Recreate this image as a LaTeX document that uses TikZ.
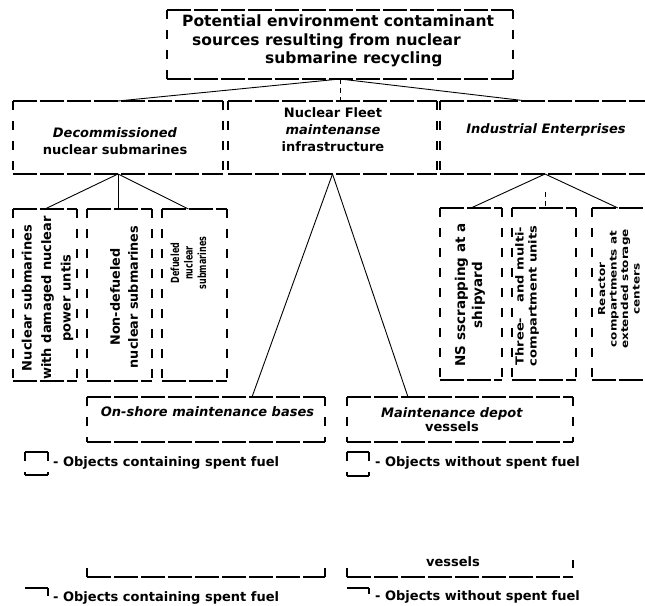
\documentclass[tikz,border=0pt]{standalone}
\usepackage{fontspec}
\usepackage{graphicx}
\setmainfont{DejaVu Sans}
\usetikzlibrary{calc}
\newcommand{\myframe}[1]{%
  \draw[hd] (#1.north west) -- (#1.north east) (#1.south west) -- (#1.south east);
  \draw[vd] (#1.north west) -- (#1.south west) (#1.north east) -- (#1.south east);}
\newcommand{\stk}[1]{\begin{tabular}{@{}c@{}}#1\end{tabular}}
\begin{document}
\begin{tikzpicture}[x=1pt,y=-1pt,
  hd/.style={line width=1.2pt, dash pattern=on 24pt off 3pt},
  vd/.style={line width=1.1pt, dash pattern=on 9pt off 11pt},
  conn/.style={line width=0.9pt},
  vconn/.style={line width=0.9pt, dash pattern=on 5pt off 4pt},
  bx/.style={inner sep=0pt, outer sep=0pt},
  tx/.style={inner sep=0pt, align=center, font=\fontsize{13}{17}\selectfont\bfseries},
  ttop/.style={inner sep=0pt, align=left, font=\fontsize{15.5}{18.5}\selectfont\bfseries},
  rt/.style={inner sep=0pt, align=center, rotate=90},
  leg/.style={inner sep=0pt, anchor=west, font=\fontsize{13}{15}\selectfont\bfseries}]
\fill[white] (0,0) rectangle (645,605);
\useasboundingbox (0,0) rectangle (645,605);

% boxes
\node[bx, minimum width=346pt, minimum height=69pt] (top) at (340,44.5) {};
\node[bx, minimum width=210pt, minimum height=73pt] (L) at (118,137.5) {};
\node[bx, minimum width=209pt, minimum height=73pt] (M) at (332.5,137.5) {};
\node[bx, minimum width=210pt, minimum height=73pt] (R) at (545,137.5) {};
\node[bx, minimum width=64pt, minimum height=172pt] (c1) at (45,295) {};
\node[bx, minimum width=65pt, minimum height=172pt] (c2) at (119.5,295) {};
\node[bx, minimum width=65pt, minimum height=172pt] (c3) at (194.5,295) {};
\node[bx, minimum width=62pt, minimum height=172pt] (c4) at (471,294) {};
\node[bx, minimum width=64pt, minimum height=172pt] (c5) at (544,294) {};
\node[bx, minimum width=60pt, minimum height=172pt] (c6) at (622,294) {};
\node[bx, minimum width=238pt, minimum height=45pt] (on) at (206,419.5) {};
\node[bx, minimum width=226pt, minimum height=45pt] (dep) at (460,419.5) {};
\node[bx, minimum width=23pt, minimum height=23pt] (lg1) at (36.5,463.5) {};
\node[bx, minimum width=22pt, minimum height=24pt] (lg2) at (358,464) {};
\foreach \b in {top,L,M,R,c1,c2,c3,c4,c5,c6,on,dep,lg1,lg2} {\myframe{\b}}

% texts
\node[ttop, anchor=north west] (ttext) at (182,15) {Potential environment contaminant\\
\hspace*{10pt}sources resulting from nuclear\\
\hspace*{83pt}submarine recycling};
\node[tx] (Ltext) at (115,141) {\textit{Decommissioned}\\nuclear submarines};
\node[tx] (Mtext) at (333,130) {Nuclear Fleet\\\textit{maintenanse}\\infrastructure};
\node[tx] (Rtext) at (546,130) {\textit{Industrial Enterprises}};
\node[rt, font=\fontsize{13}{19.5}\selectfont\bfseries] (t1) at (47.5,298) {Nuclear submarines\\with damaged nuclear\\power untis};
\node[rt, font=\fontsize{12.8}{18}\selectfont\bfseries] (t2) at (124,297) {Non-defueled\\nuclear submarines};
\node[rt, font=\fontsize{12.5}{15}\selectfont\bfseries] (t3) at (190,263)
  {\scalebox{0.64}[0.9]{\stk{Defueled\\nuclear\\submarines}}};
\node[rt, font=\fontsize{13.5}{17}\selectfont\bfseries] (t4) at (470,295) {NS sscrapping at a\\shipyard};
\node[rt, font=\fontsize{13}{15.3}\selectfont\bfseries] (t5) at (527.5,296)
  {\scalebox{1}[0.85]{\stk{Three-\hspace{1.2em}and multi-\\compartment units}}};
\node[rt, font=\fontsize{12}{14.4}\selectfont\bfseries] (t6) at (620,289)
  {\scalebox{1}[0.8]{\stk{Reactor\\compartments at\\extended storage\\centers}}};
\node[tx] (ontext) at (207.5,412) {\textit{On-shore maintenance bases}};
\node[tx, font=\fontsize{13}{14.5}\selectfont\bfseries] (deptext) at (452,419.5) {\textit{Maintenance depot}\\vessels};
\node[leg] (lt1) at (53,463) {- Objects containing spent fuel};
\node[leg] (lt2) at (375,463) {- Objects without spent fuel};

% connectors
\draw[conn] (top.south) -- (L.north);
\draw[conn] (top.south) -- ([xshift=87pt]R.north west);
\draw[vconn] (top.south) -- (top.south |- M.north);
\draw[conn] (L.south) -- (c1.north);
\draw[conn] (L.south) -- ([xshift=-6pt]c3.north);
\draw[conn] (L.south) -- (L.south |- c2.north);
\draw[conn] (M.south) -- ([xshift=165pt]on.north west);
\draw[conn] (M.south) -- ([xshift=61pt]dep.north west);
\draw[conn] (R.south) -- (c4.north);
\draw[conn] (R.south) -- ([xshift=26pt]c6.north west);
\draw[vconn] ([yshift=-18pt]R.south) -- (R.south |- c5.north);

% ghost copy at the bottom
\coordinate (g1) at (87,577);
\coordinate (g2) at (325,577);
\coordinate (g3) at (347,577);
\coordinate (g4) at (573,577);
\draw[hd] (g1) -- (g2) (g3) -- (g4);
\draw[vd] (g1) -- ++(0,-12) (g2) -- ++(0,-10) (g3) -- ++(0,-11);
\draw[vd] (573,560) -- (573,568);
\node[tx] (ves2) at (453,562) {vessels};
\coordinate (h1) at (25,588);
\coordinate (h2) at (48,588);
\coordinate (h3) at (347,588);
\coordinate (h4) at (369,588);
\draw[hd] (h1) -- (h2) (h3) -- (h4);
\draw[vd] (h2) -- ++(0,8) (h4) -- ++(0,6);
\node[leg] (lt3) at (53,597.5) {- Objects containing spent fuel};
\node[leg] (lt4) at (375,596.5) {- Objects without spent fuel};
\end{tikzpicture}
\end{document}
